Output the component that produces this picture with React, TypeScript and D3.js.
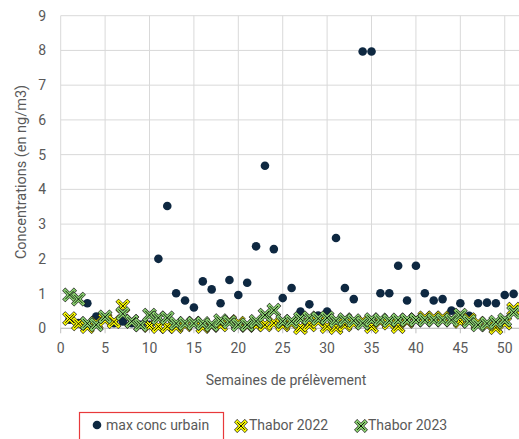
import * as d3 from 'd3';

// semaines 1..52
const weeks = d3.range(1, 53);

const maxUrbain = [
  0.25, 0.15, 0.72, 0.34, 0.3, 0.15, 0.2, 0.15, 0.1, 0.1,
  2.0, 3.52, 1.01, 0.8, 0.6, 1.35, 1.12, 0.72, 1.39, 0.96,
  1.31, 2.36, 4.68, 2.28, 0.87, 1.16, 0.48, 0.69, 0.37, 0.48,
  2.6, 1.16, 0.84, 7.97, 7.97, 1.01, 1.01, 1.8, 0.8, 1.8,
  1.01, 0.8, 0.84, 0.51, 0.72, 0.36, 0.72, 0.74, 0.72, 0.96,
  0.99, 0.58,
];

const thabor2022 = [
  0.28, 0.13, 0.05, 0.15, 0.25, 0.19, 0.64, 0.2, 0.1, 0.08,
  0.05, 0.05, 0.05, 0.1, 0.15, 0.05, 0.08, 0.1, 0.2, 0.15,
  0.08, 0.1, 0.1, 0.15, 0.1, 0.15, 0.02, 0.1, 0.2, 0.05,
  0.02, 0.1, 0.15, 0.2, 0.05, 0.2, 0.15, 0.05, 0.2, 0.25,
  0.3, 0.3, 0.3, 0.25, 0.2, 0.25, 0.15, 0.1, 0.02, 0.15,
  0.55, null,
];

const thabor2023 = [
  0.96, 0.84, 0.14, 0.1, 0.33, null, 0.42, 0.2, 0.1, 0.38,
  0.3, 0.3, 0.14, 0.14, 0.14, 0.14, 0.1, 0.22, 0.18, 0.1,
  0.1, 0.2, 0.38, 0.52, 0.2, 0.2, 0.28, 0.3, 0.28, 0.3,
  0.22, 0.25, 0.22, 0.15, 0.25, 0.24, 0.22, 0.24, 0.24, 0.24,
  0.24, 0.24, 0.24, 0.24, 0.38, 0.2, 0.1, 0.14, 0.18, 0.24,
  0.46, null,
];

const xTicks = [0, 5, 10, 15, 20, 25, 30, 35, 40, 45, 50];
const yTicks = [0, 1, 2, 3, 4, 5, 6, 7, 8, 9];

const W = 519;
const H = 439;
const FONT = 'Roboto, "Noto Sans", sans-serif';
const GREY = '#595959';
const NAVY = '#0e2841';
const YELLOW = '#ffff00';
const GREEN = '#8ed873';

const x = d3.scaleLinear().domain([0, 52]).range([60.7, 522.5]);
const y = d3.scaleLinear().domain([0, 9]).range([328.3, 15.7]);

const XMark = ({ cx, cy, fill, s = 4.3 }: { cx: number; cy: number; fill: string; s?: number }) => {
  const d = `M${cx - s},${cy - s}L${cx + s},${cy + s}M${cx - s},${cy + s}L${cx + s},${cy - s}`;
  return (
    <g>
      <path d={d} stroke="#1a1a1a" strokeWidth={4.4} strokeLinecap="square" />
      <path d={d} stroke={fill} strokeWidth={3.3} strokeLinecap="square" />
      <path d={d} stroke="#000" strokeWidth={0.9} />
    </g>
  );
};

const xSeries = (vals: (number | null)[]) =>
  weeks
    .map((w, i) => ({ w, v: vals[i] }))
    .filter((d) => d.v !== null && d.v !== undefined) as { w: number; v: number }[];

export default function App() {
  const [x0, x1] = x.range();
  return (
    <div style={{ position: 'absolute', left: 0, top: 0 }}>
      <svg width={W} height={H} style={{ display: 'block', background: '#fff' }} fontFamily={FONT}>
        {/* grid */}
        {yTicks.map((t) => (
          <line key={'gy' + t} x1={x0} x2={x1} y1={y(t)} y2={y(t)} stroke="#d9d9d9" strokeWidth={1} />
        ))}
        {xTicks.map((t) => (
          <line key={'gx' + t} x1={x(t)} x2={x(t)} y1={y(0)} y2={y(9)} stroke="#d9d9d9" strokeWidth={1} />
        ))}
        {/* x axis */}
        <line x1={x0} x2={x1} y1={y(0)} y2={y(0)} stroke="#bfbfbf" strokeWidth={1} />
        {xTicks.map((t) => (
          <line key={'tx' + t} x1={x(t)} x2={x(t)} y1={y(0)} y2={y(0) + 5} stroke="#bfbfbf" />
        ))}
        {xTicks.map((t) => (
          <text key={'lx' + t} x={x(t)} y={353} textAnchor="middle" fontSize={14} fill={GREY}>
            {t}
          </text>
        ))}
        {yTicks.map((t) => (
          <text key={'ly' + t} x={46} y={y(t) + 5} textAnchor="end" fontSize={14} fill={GREY}>
            {t}
          </text>
        ))}
        <text x={286} y={385} textAnchor="middle" fontSize={14} fill={GREY}>
          Semaines de prélèvement
        </text>
        <text transform="translate(26,172) rotate(-90)" textAnchor="middle" fontSize={14.5} fill={GREY}>
          Concentrations (en ng/m3)
        </text>

        {/* series */}
        <g>
          {xSeries(maxUrbain).map((d) => (
            <circle key={'c' + d.w} cx={x(d.w)} cy={y(d.v)} r={4.3} fill={NAVY} />
          ))}
        </g>
        <g>
          {xSeries(thabor2022).map((d) => (
            <XMark key={'a' + d.w} cx={x(d.w)} cy={y(d.v)} fill={YELLOW} />
          ))}
        </g>
        <g>
          {xSeries(thabor2023).map((d) => (
            <XMark key={'b' + d.w} cx={x(d.w)} cy={y(d.v)} fill={GREEN} />
          ))}
        </g>

        {/* legend */}
        <rect x={79.5} y={412.5} width={144} height={40} fill="none" stroke="#e8393b" strokeWidth={1.2} />
        <circle cx={97} cy={425} r={4.3} fill={NAVY} />
        <text x={106} y={430} fontSize={14} fill={GREY}>max conc urbain</text>
        <XMark cx={241} cy={426} fill={YELLOW} s={3.8} />
        <text x={249} y={430} fontSize={14} fill={GREY}>Thabor 2022</text>
        <XMark cx={361} cy={426} fill={GREEN} s={3.8} />
        <text x={368} y={430} fontSize={14} fill={GREY}>Thabor 2023</text>
      </svg>
    </div>
  );
}
